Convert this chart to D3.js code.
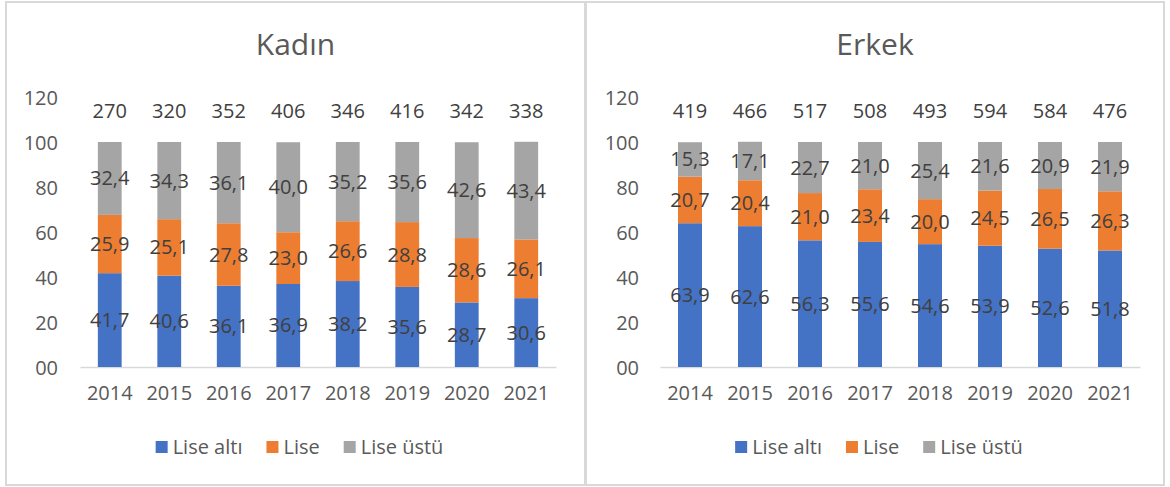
<!DOCTYPE html>
<meta charset="utf-8">
<style>
body { margin: 0; background: #fff; }
svg text { font-family: "Open Sans", sans-serif; }
.tick text, .year { fill: #595959; font-size: 20px; }
.lbl, .total { fill: #404040; font-size: 20px; }
.title { fill: #595959; font-size: 30px; }
.leg text { fill: #595959; font-size: 20px; }
</style>
<svg width="1170" height="487"></svg>
<script src="https://d3js.org/d3.v7.min.js"></script>
<script>
var years = ["2014","2015","2016","2017","2018","2019","2020","2021"];
var seriesNames = ["Lise altı", "Lise", "Lise üstü"];
var colors = ["#4472C4", "#ED7D31", "#A5A5A5"];
var yTicks = [0, 20, 40, 60, 80, 100, 120];

var kadinAlti = [41.7, 40.6, 36.1, 36.9, 38.2, 35.6, 28.7, 30.6];
var kadinLise = [25.9, 25.1, 27.8, 23.0, 26.6, 28.8, 28.6, 26.1];
var kadinUstu = [32.4, 34.3, 36.1, 40.0, 35.2, 35.6, 42.6, 43.4];
var kadinTotal = [270, 320, 352, 406, 346, 416, 342, 338];

var erkekAlti = [63.9, 62.6, 56.3, 55.6, 54.6, 53.9, 52.6, 51.8];
var erkekLise = [20.7, 20.4, 21.0, 23.4, 20.0, 24.5, 26.5, 26.3];
var erkekUstu = [15.3, 17.1, 22.7, 21.0, 25.4, 21.6, 20.9, 21.9];
var erkekTotal = [419, 466, 517, 508, 493, 594, 584, 476];

var svg = d3.select("svg");
var fmt = d3.format(".1f");

function panel(opt) {
  var g = svg.append("g");
  g.append("rect")
    .attr("x", opt.box[0]).attr("y", opt.box[1])
    .attr("width", opt.box[2]).attr("height", opt.box[3])
    .attr("fill", "#fff").attr("stroke", "#D9D9D9").attr("stroke-width", 2);

  var cx = opt.box[0] + opt.box[2] / 2;
  g.append("text").attr("class", "title")
    .attr("x", cx).attr("y", 55).attr("text-anchor", "middle")
    .text(opt.title);

  var x = d3.scaleBand().domain(years).range([opt.x0, opt.x1])
    .paddingInner(0.6).paddingOuter(0.3);
  var y = d3.scaleLinear().domain([0, 120]).range([367, 97]);

  var yAxis = g.append("g")
    .attr("transform", "translate(" + opt.yLab + ",0)")
    .call(d3.axisLeft(y).tickValues(yTicks).tickFormat(d3.format("02d")).tickSize(0).tickPadding(0));
  yAxis.select(".domain").remove();
  yAxis.selectAll("text").attr("dy", "0.35em");

  var xAxis = g.append("g")
    .attr("transform", "translate(0,367)")
    .call(d3.axisBottom(x).tickSize(0).tickPadding(19));
  xAxis.select(".domain").attr("stroke", "#D9D9D9").attr("stroke-width", 1.5);
  xAxis.selectAll("text").attr("class", "year").attr("dy", "0.71em");

  var rows = years.map(function(yr, i) {
    return { year: yr, a: opt.data[0][i], b: opt.data[1][i], c: opt.data[2][i] };
  });
  var stack = d3.stack().keys(["a", "b", "c"])(rows);

  var layers = g.selectAll(".layer").data(stack).enter().append("g")
    .attr("fill", function(d, i) { return colors[i]; });
  layers.selectAll("rect").data(function(d) { return d; }).enter().append("rect")
    .attr("x", function(d) { return x(d.data.year); })
    .attr("width", x.bandwidth())
    .attr("y", function(d) { return y(d[1]); })
    .attr("height", function(d) { return y(d[0]) - y(d[1]); });

  stack.forEach(function(layer) {
    g.selectAll(null).data(layer).enter().append("text").attr("class", "lbl")
      .attr("x", function(d) { return x(d.data.year) + x.bandwidth() / 2; })
      .attr("y", function(d) { return y((d[0] + d[1]) / 2); })
      .attr("dy", "0.35em").attr("text-anchor", "middle")
      .text(function(d) { return fmt(d[1] - d[0]).replace(".", ","); });
  });

  g.selectAll(null).data(opt.totals).enter().append("text").attr("class", "total")
    .attr("x", function(d, i) { return x(years[i]) + x.bandwidth() / 2; })
    .attr("y", 118).attr("text-anchor", "middle")
    .text(function(d) { return d; });

  // legend
  var leg = g.append("g").attr("class", "leg");
  var pos = 0;
  seriesNames.forEach(function(name, i) {
    var it = leg.append("g").attr("transform", "translate(" + pos + ",0)");
    it.append("rect").attr("x", 0).attr("y", 441).attr("width", 12).attr("height", 12)
      .attr("fill", colors[i]);
    var t = it.append("text").attr("x", 17).attr("y", 454).text(name);
    pos += 17 + t.node().getComputedTextLength() + 24;
  });
  var w = pos - 24;
  leg.attr("transform", "translate(" + (cx - w / 2 + 4) + ",0)");
}

panel({
  box: [6, 2, 579, 483], title: "Kadın", x0: 80, x1: 556, yLab: 58,
  data: [kadinAlti, kadinLise, kadinUstu], totals: kadinTotal
});
panel({
  box: [586, 2, 578, 483], title: "Erkek", x0: 660, x1: 1140, yLab: 639,
  data: [erkekAlti, erkekLise, erkekUstu], totals: erkekTotal
});
</script>
